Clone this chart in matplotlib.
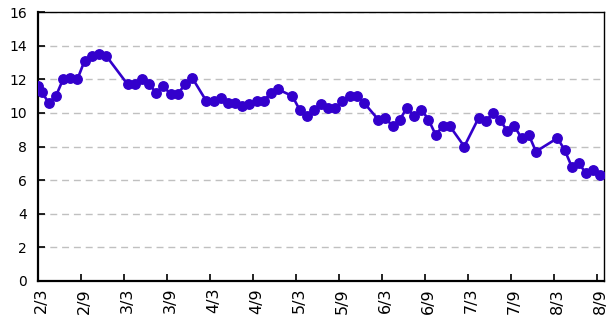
import numpy as np
import matplotlib
matplotlib.use('Agg')
import matplotlib.pyplot as plt

# monthly values, NaN where the month has no figure
values = [
    11.25, 10.6, 11.0, 12.0, 12.1, 12.0, 13.1, 13.4, 13.5, 13.4,
    np.nan, np.nan, 11.7, 11.7, 12.0, 11.7, 11.2, 11.6, 11.1, 11.1,
    11.7, 12.1, np.nan, 10.7, 10.7, 10.9, 10.6, 10.6, 10.4, 10.5,
    10.7, 10.7, 11.2, 11.4, np.nan, 11.0, 10.2, 9.8, 10.2, 10.5,
    10.3, 10.3, 10.7, 11.0, 11.0, 10.6, np.nan, 9.6, 9.7, 9.2,
    9.6, 10.3, 9.8, 10.2, 9.6, 8.7, 9.2, 9.2, np.nan, 8.0,
    np.nan, 9.7, 9.5, 10.0, 9.6, 8.9, 9.2, 8.5, 8.7, 7.7,
    np.nan, np.nan, 8.5, 7.8, 6.8, 7.0, 6.4, 6.6, 6.3,
]
# reading taken at the start of the first period
opening_value = 11.6
tick_labels = ['2/3', '2/9', '3/3', '3/9', '4/3', '4/9', '5/3',
               '5/9', '6/3', '6/9', '7/3', '7/9', '8/3', '8/9']
label_step = 6

plt.rcParams['font.family'] = ['DejaVu Sans']

vals = np.array(values, dtype=float)
x = np.arange(len(vals))
ok = ~np.isnan(vals)
xs = np.concatenate([[-0.5], x[ok]])
ys = np.concatenate([[opening_value], vals[ok]])

fig = plt.figure(figsize=(6.1, 3.27), dpi=100)
ax = fig.add_axes([38 / 610, 46 / 327, 566 / 610, 269 / 327])

# line joins across the empty months
ax.plot(xs, ys, color='#3300cc', lw=1.9, marker='o', ms=6.8,
        mec='#3300cc', mfc='#3300cc', zorder=3)

ax.set_ylim(0, 16)
ax.set_yticks(np.arange(0, 17, 2))
ax.set_xlim(-0.5, len(vals) - 0.5)

# ticks sit on category boundaries, labels on category centres
ax.set_xticks(np.arange(-0.5, len(vals) - 0.5, label_step))
ax.set_xticklabels([])
ax.set_xticks(np.arange(0, len(vals), label_step), minor=True)
ax.set_xticklabels(tick_labels, minor=True, rotation=90)
ax.tick_params(axis='x', which='major', direction='in', length=5, width=1.2)
ax.tick_params(axis='x', which='minor', length=0, pad=5, labelsize=11.5)
ax.tick_params(axis='y', direction='in', length=5, width=1.2, pad=8,
               labelsize=10)

ax.grid(axis='y', color='#c0c0c0', lw=1.0, ls=(0, (5, 3.5)))
ax.set_axisbelow(True)

for side in ['left', 'bottom']:
    ax.spines[side].set_linewidth(1.6)
for side in ['top', 'right']:
    ax.spines[side].set_linewidth(1.0)

fig.savefig('out.png', dpi=100)
